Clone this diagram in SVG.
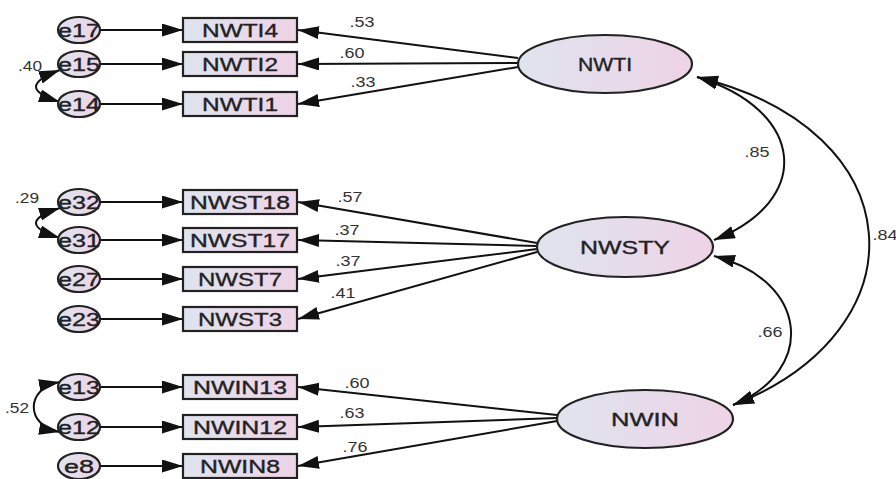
<svg xmlns="http://www.w3.org/2000/svg" width="896" height="479" viewBox="0 0 896 479">
<defs>
<linearGradient id="g" x1="0" y1="0" x2="1" y2="0">
<stop offset="0" stop-color="#dfe4ef"/>
<stop offset="1" stop-color="#eed3e6"/>
</linearGradient>
<marker id="ah" markerUnits="userSpaceOnUse" markerWidth="24" markerHeight="14" refX="21" refY="6.5" orient="auto-start-reverse">
<path d="M0,0 L21,6.5 L0,13 Z" fill="#111"/>
</marker>
</defs>
<style>
.n{fill:url(#g);stroke:#222;stroke-width:2.2}
.t{font-family:"Liberation Sans",Arial,sans-serif;font-size:18px;fill:#222;stroke:#222;stroke-width:0.35;text-anchor:middle;dominant-baseline:central}
.l{font-family:"Liberation Sans",Arial,sans-serif;font-size:14px;fill:#333;text-anchor:middle;dominant-baseline:central}
.a{fill:none;stroke:#111;stroke-width:2;marker-end:url(#ah)}
.b{fill:none;stroke:#111;stroke-width:2;marker-start:url(#ah);marker-end:url(#ah)}
</style>
<rect width="896" height="479" fill="#fff"/>
<g id="connectors">
<line class="a" x1="100" y1="30" x2="183" y2="30"/>
<line class="a" x1="100" y1="64" x2="183" y2="64"/>
<line class="a" x1="100" y1="104" x2="183" y2="104"/>
<line class="a" x1="100" y1="202" x2="183" y2="202"/>
<line class="a" x1="100" y1="240" x2="183" y2="240"/>
<line class="a" x1="100" y1="279" x2="183" y2="279"/>
<line class="a" x1="100" y1="319" x2="183" y2="319"/>
<line class="a" x1="100" y1="387" x2="183" y2="387"/>
<line class="a" x1="100" y1="427" x2="183" y2="427"/>
<line class="a" x1="100" y1="466" x2="183" y2="466"/>
<line class="a" x1="518" y1="58" x2="298" y2="30"/>
<line class="a" x1="518" y1="63" x2="298" y2="64"/>
<line class="a" x1="518" y1="67" x2="298" y2="104"/>
<line class="a" x1="537" y1="243" x2="298" y2="202"/>
<line class="a" x1="537" y1="246" x2="298" y2="240"/>
<line class="a" x1="537" y1="249" x2="298" y2="279"/>
<line class="a" x1="537" y1="252" x2="298" y2="319"/>
<line class="a" x1="557" y1="415" x2="298" y2="387"/>
<line class="a" x1="557" y1="418" x2="298" y2="427"/>
<line class="a" x1="557" y1="421" x2="298" y2="466"/>
<path class="b" d="M60,70 C28,82 28,92 60,102"/>
<path class="b" d="M60,208 C28,218 28,228 60,238"/>
<path class="b" d="M60,382 C25,388 25,426 60,432"/>
<path class="b" d="M697,77 C805,110 815,200 714,240"/>
<path class="b" d="M697,77 C915,130 925,330 733,405"/>
<path class="b" d="M714,256 C808,280 818,370 733,405"/>
<text class="l" x="30" y="66" textLength="24" lengthAdjust="spacingAndGlyphs">.40</text>
<text class="l" x="27" y="198" textLength="24" lengthAdjust="spacingAndGlyphs">.29</text>
<text class="l" x="17" y="408" textLength="24" lengthAdjust="spacingAndGlyphs">.52</text>
<text class="l" x="362" y="22" textLength="25" lengthAdjust="spacingAndGlyphs">.53</text>
<text class="l" x="352" y="53" textLength="25" lengthAdjust="spacingAndGlyphs">.60</text>
<text class="l" x="363" y="82" textLength="25" lengthAdjust="spacingAndGlyphs">.33</text>
<text class="l" x="350" y="197" textLength="25" lengthAdjust="spacingAndGlyphs">.57</text>
<text class="l" x="347" y="230" textLength="25" lengthAdjust="spacingAndGlyphs">.37</text>
<text class="l" x="348" y="261" textLength="25" lengthAdjust="spacingAndGlyphs">.37</text>
<text class="l" x="343" y="293" textLength="25" lengthAdjust="spacingAndGlyphs">.41</text>
<text class="l" x="357" y="383" textLength="25" lengthAdjust="spacingAndGlyphs">.60</text>
<text class="l" x="352" y="413" textLength="25" lengthAdjust="spacingAndGlyphs">.63</text>
<text class="l" x="355" y="447" textLength="25" lengthAdjust="spacingAndGlyphs">.76</text>
<text class="l" x="757" y="152" textLength="25" lengthAdjust="spacingAndGlyphs">.85</text>
<text class="l" x="770" y="332" textLength="25" lengthAdjust="spacingAndGlyphs">.66</text>
<text class="l" x="885" y="235" textLength="25" lengthAdjust="spacingAndGlyphs">.84</text>
</g>
<g id="e17"><ellipse class="n" cx="79" cy="30" rx="21" ry="13"/><text class="t" x="79" y="31" textLength="42" lengthAdjust="spacingAndGlyphs">e17</text></g>
<g id="e15"><ellipse class="n" cx="79" cy="64" rx="21" ry="13"/><text class="t" x="79" y="65" textLength="42" lengthAdjust="spacingAndGlyphs">e15</text></g>
<g id="e14"><ellipse class="n" cx="79" cy="104" rx="21" ry="13"/><text class="t" x="79" y="105" textLength="42" lengthAdjust="spacingAndGlyphs">e14</text></g>
<g id="e32"><ellipse class="n" cx="79" cy="202" rx="21" ry="13"/><text class="t" x="79" y="203" textLength="42" lengthAdjust="spacingAndGlyphs">e32</text></g>
<g id="e31"><ellipse class="n" cx="79" cy="240" rx="21" ry="13"/><text class="t" x="79" y="241" textLength="42" lengthAdjust="spacingAndGlyphs">e31</text></g>
<g id="e27"><ellipse class="n" cx="79" cy="279" rx="21" ry="13"/><text class="t" x="79" y="280" textLength="42" lengthAdjust="spacingAndGlyphs">e27</text></g>
<g id="e23"><ellipse class="n" cx="79" cy="319" rx="21" ry="13"/><text class="t" x="79" y="320" textLength="42" lengthAdjust="spacingAndGlyphs">e23</text></g>
<g id="e13"><ellipse class="n" cx="79" cy="387" rx="21" ry="13"/><text class="t" x="79" y="388" textLength="42" lengthAdjust="spacingAndGlyphs">e13</text></g>
<g id="e12"><ellipse class="n" cx="79" cy="427" rx="21" ry="13"/><text class="t" x="79" y="428" textLength="42" lengthAdjust="spacingAndGlyphs">e12</text></g>
<g id="e8"><ellipse class="n" cx="79" cy="466" rx="21" ry="13"/><text class="t" x="79" y="467" textLength="30" lengthAdjust="spacingAndGlyphs">e8</text></g>
<g id="NWTI4"><rect class="n" x="183" y="18" width="114" height="24"/><text class="t" x="240" y="31" textLength="76" lengthAdjust="spacingAndGlyphs">NWTI4</text></g>
<g id="NWTI2"><rect class="n" x="183" y="52" width="114" height="24"/><text class="t" x="240" y="65" textLength="76" lengthAdjust="spacingAndGlyphs">NWTI2</text></g>
<g id="NWTI1"><rect class="n" x="183" y="92" width="114" height="24"/><text class="t" x="240" y="105" textLength="76" lengthAdjust="spacingAndGlyphs">NWTI1</text></g>
<g id="NWST18"><rect class="n" x="183" y="190" width="114" height="24"/><text class="t" x="240" y="203" textLength="100" lengthAdjust="spacingAndGlyphs">NWST18</text></g>
<g id="NWST17"><rect class="n" x="183" y="228" width="114" height="24"/><text class="t" x="240" y="241" textLength="100" lengthAdjust="spacingAndGlyphs">NWST17</text></g>
<g id="NWST7"><rect class="n" x="183" y="267" width="114" height="24"/><text class="t" x="240" y="280" textLength="84" lengthAdjust="spacingAndGlyphs">NWST7</text></g>
<g id="NWST3"><rect class="n" x="183" y="307" width="114" height="24"/><text class="t" x="240" y="320" textLength="84" lengthAdjust="spacingAndGlyphs">NWST3</text></g>
<g id="NWIN13"><rect class="n" x="183" y="375" width="114" height="24"/><text class="t" x="240" y="388" textLength="94" lengthAdjust="spacingAndGlyphs">NWIN13</text></g>
<g id="NWIN12"><rect class="n" x="183" y="415" width="114" height="24"/><text class="t" x="240" y="428" textLength="94" lengthAdjust="spacingAndGlyphs">NWIN12</text></g>
<g id="NWIN8"><rect class="n" x="183" y="454" width="114" height="24"/><text class="t" x="240" y="467" textLength="80" lengthAdjust="spacingAndGlyphs">NWIN8</text></g>
<g id="NWTI"><ellipse class="n" cx="605" cy="64" rx="87" ry="29"/><text class="t" x="605" y="65" font-size="19" textLength="54" lengthAdjust="spacingAndGlyphs">NWTI</text></g>
<g id="NWSTY"><ellipse class="n" cx="625" cy="247" rx="88" ry="30"/><text class="t" x="625" y="248" font-size="19" textLength="90" lengthAdjust="spacingAndGlyphs">NWSTY</text></g>
<g id="NWIN"><ellipse class="n" cx="645" cy="419" rx="88" ry="29"/><text class="t" x="645" y="420" font-size="19" textLength="68" lengthAdjust="spacingAndGlyphs">NWIN</text></g>
</svg>
